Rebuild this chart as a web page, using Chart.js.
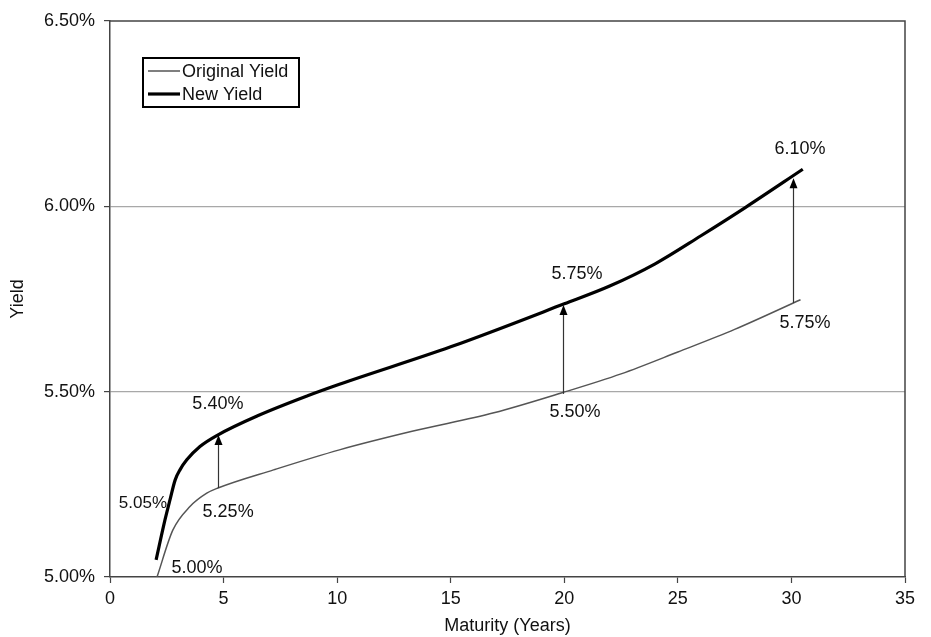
<!DOCTYPE html>
<html>
<head>
<meta charset="utf-8">
<script src="https://cdn.jsdelivr.net/npm/chart.js@4"></script>
<style>
  html, body { margin: 0; padding: 0; background: #fff; }
  #wrap { width: 931px; height: 637px; }
</style>
</head>
<body>
<div id="wrap"><canvas id="yieldChart" width="931" height="637"></canvas></div>
<script>
// ===== Yield curve shift chart =====

// curve points: maturity (years) and yield (%)
const originalX = [2.07, 2.77, 3.52, 4.26, 4.75, 7.2, 10.1, 13.3, 16.9, 19.9, 22.5, 25, 27.5, 30.4];
const originalY = [5.0, 5.127, 5.19, 5.226, 5.24, 5.289, 5.343, 5.393, 5.443, 5.497, 5.548, 5.607, 5.668, 5.748];
const newX = [2.03, 2.42, 2.64, 2.87, 3.08, 3.38, 3.96, 4.74, 6.5, 8.7, 10.1, 15, 20, 22, 24, 26, 28, 30.5];
const newY = [5.046, 5.154, 5.208, 5.262, 5.289, 5.316, 5.352, 5.383, 5.435, 5.489, 5.52, 5.621, 5.737, 5.785, 5.845, 5.92, 5.998, 6.1];

// arrows from old curve to new curve
const arrowX = [4.75, 19.94, 30.07];
const arrowFrom = [5.24, 5.494, 5.739];
const arrowTo = [5.383, 5.734, 6.076];

// value labels
const labelText = ['5.40%', '5.05%', '5.25%', '5.00%', '5.75%', '5.50%', '6.10%', '5.75%'];
const labelX = [4.75, 1.45, 5.2, 3.83, 20.56, 20.47, 30.38, 30.6];
const labelY = [5.467, 5.2, 5.175, 5.024, 5.817, 5.445, 6.155, 5.685];

const xTicks = [0, 5, 10, 15, 20, 25, 30, 35];
const yTicks = [5.0, 5.5, 6.0, 6.5];

const FONT = '"Liberation Sans", Arial, sans-serif';

function toPoints(xs, ys) {
    return xs.map((x, i) => ({ x: x, y: ys[i] }));
}

// ==================== PLUGINS ====================
const frameAndNotes = {
    id: 'frameAndNotes',
    afterDatasetsDraw(chart) {
        const ctx = chart.ctx;
        const xs = chart.scales.x;
        const ys = chart.scales.y;
        const area = chart.chartArea;
        ctx.save();

        // top + right frame
        ctx.strokeStyle = '#444';
        ctx.lineWidth = 1.5;
        ctx.beginPath();
        ctx.moveTo(area.left, area.top);
        ctx.lineTo(area.right, area.top);
        ctx.lineTo(area.right, area.bottom);
        ctx.stroke();

        // arrows
        arrowX.forEach((ax, i) => {
            const px = Math.round(xs.getPixelForValue(ax)) + 0.5;
            const y0 = ys.getPixelForValue(arrowFrom[i]);
            const y1 = ys.getPixelForValue(arrowTo[i]);
            ctx.strokeStyle = '#333';
            ctx.lineWidth = 1.2;
            ctx.beginPath();
            ctx.moveTo(px, y0);
            ctx.lineTo(px, y1 + 8);
            ctx.stroke();
            ctx.fillStyle = '#000';
            ctx.beginPath();
            ctx.moveTo(px, y1);
            ctx.lineTo(px - 4, y1 + 10);
            ctx.lineTo(px + 4, y1 + 10);
            ctx.closePath();
            ctx.fill();
        });

        // value labels
        ctx.fillStyle = '#111';
        ctx.textAlign = 'center';
        ctx.textBaseline = 'middle';
        labelText.forEach((t, i) => {
            ctx.font = (t === '5.05%' ? '17px ' : '18px ') + FONT;
            ctx.fillText(t, xs.getPixelForValue(labelX[i]), ys.getPixelForValue(labelY[i]));
        });

        // legend box
        const lx = 143, ly = 58, lw = 156, lh = 49;
        ctx.fillStyle = '#fff';
        ctx.fillRect(lx, ly, lw, lh);
        ctx.strokeStyle = '#000';
        ctx.lineWidth = 2;
        ctx.strokeRect(lx, ly, lw, lh);
        chart.data.datasets.forEach((ds, i) => {
            const rowY = ly + 13 + i * 23;
            ctx.strokeStyle = ds.borderColor;
            ctx.lineWidth = ds.borderWidth;
            ctx.beginPath();
            ctx.moveTo(lx + 5, rowY);
            ctx.lineTo(lx + 37, rowY);
            ctx.stroke();
            ctx.fillStyle = '#111';
            ctx.font = '18px ' + FONT;
            ctx.textAlign = 'left';
            ctx.fillText(ds.label, lx + 39, rowY + 1);
        });

        ctx.restore();
    }
};

// ==================== CHART ====================
window.addEventListener('load', () => {
    const canvas = document.getElementById('yieldChart');

    new Chart(canvas, {
        type: 'scatter',
        data: {
            datasets: [
                {
                    label: 'Original Yield',
                    data: toPoints(originalX, originalY),
                    showLine: true,
                    borderColor: '#555',
                    borderWidth: 1.5,
                    pointRadius: 0,
                    cubicInterpolationMode: 'monotone'
                },
                {
                    label: 'New Yield',
                    data: toPoints(newX, newY),
                    showLine: true,
                    borderColor: '#000',
                    borderWidth: 3.2,
                    pointRadius: 0,
                    cubicInterpolationMode: 'monotone'
                }
            ]
        },
        options: {
            responsive: false,
            animation: false,
            layout: { padding: { top: 21, right: 26, left: 0, bottom: 0 } },
            plugins: {
                legend: { display: false },
                tooltip: { enabled: false }
            },
            scales: {
                x: {
                    type: 'linear',
                    min: 0,
                    max: 35,
                    afterBuildTicks: (axis) => { axis.ticks = xTicks.map(v => ({ value: v })); },
                    afterFit: (axis) => { axis.height = 60; },
                    border: { display: true, color: '#444', width: 1.5 },
                    grid: { drawOnChartArea: false, drawTicks: true, tickLength: 6, tickColor: '#444', tickWidth: 1.2 },
                    ticks: {
                        color: '#111',
                        font: { family: FONT, size: 18 },
                        padding: 5,
                        maxRotation: 0
                    },
                    title: {
                        display: true,
                        text: 'Maturity (Years)',
                        color: '#111',
                        font: { family: FONT, size: 18 },
                        padding: { top: 0, bottom: 0 }
                    }
                },
                y: {
                    type: 'linear',
                    min: 5.0,
                    max: 6.5,
                    afterBuildTicks: (axis) => { axis.ticks = yTicks.map(v => ({ value: v })); },
                    afterFit: (axis) => { axis.width = 110; },
                    border: { display: true, color: '#444', width: 1.5 },
                    grid: {
                        drawTicks: true,
                        tickLength: 6,
                        tickColor: '#444',
                        tickWidth: 1.2,
                        lineWidth: 1.2,
                        color: (c) => (c.tick && (c.tick.value === 5.5 || c.tick.value === 6.0)) ? '#a8a8a8' : 'rgba(0,0,0,0)'
                    },
                    ticks: {
                        color: '#111',
                        font: { family: FONT, size: 18 },
                        padding: 9,
                        callback: (v) => Number(v).toFixed(2) + '%'
                    },
                    title: {
                        display: true,
                        text: 'Yield',
                        color: '#111',
                        font: { family: FONT, size: 18 },
                        padding: { top: 7, bottom: 0 }
                    }
                }
            }
        },
        plugins: [frameAndNotes]
    });
});
</script>
</body>
</html>
